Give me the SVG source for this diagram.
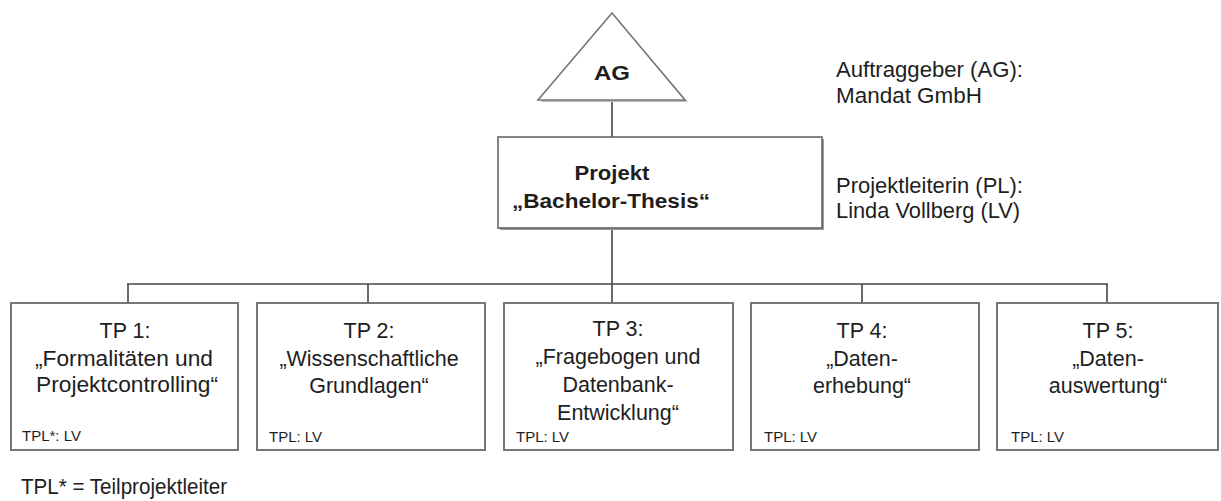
<svg xmlns="http://www.w3.org/2000/svg" width="1221" height="501" viewBox="0 0 1221 501">
<style>
.t{font-family:"Liberation Sans",Arial,sans-serif;fill:#1e1e1e}
.n{font-size:21.5px}
.c{text-anchor:middle}
.b{font-weight:bold;font-size:20px}
.s{font-size:15px}
.box{fill:#fff;stroke:#777;stroke-width:2}
.sh{fill:#9a9a9a;stroke:none}
.ln{stroke:#444;stroke-width:1.6;fill:none}
</style>
<rect width="1221" height="501" fill="#fff"/>
<g id="connectors">
<line class="ln" x1="612" y1="100" x2="612" y2="137"/>
<line class="ln" x1="612" y1="228" x2="612" y2="284"/>
<line class="ln" x1="127" y1="284" x2="1108" y2="284"/>
<line class="ln" x1="128" y1="284" x2="128" y2="303"/>
<line class="ln" x1="368" y1="284" x2="368" y2="303"/>
<line class="ln" x1="612" y1="284" x2="612" y2="303"/>
<line class="ln" x1="862" y1="284" x2="862" y2="303"/>
<line class="ln" x1="1107" y1="284" x2="1107" y2="303"/>
</g>
<g id="ag">
<polygon points="614,15 688,102 541,102" fill="#bbb"/>
<polygon points="612,13 685,100 538,100" fill="#fff" stroke="#777" stroke-width="1.6"/>
<text class="t b c" x="612" y="80" textLength="36" lengthAdjust="spacingAndGlyphs">AG</text>
</g>
<g id="ag-label">
<text class="t n" x="836" y="77" textLength="187" lengthAdjust="spacingAndGlyphs">Auftraggeber (AG):</text>
<text class="t n" x="836" y="103" textLength="146" lengthAdjust="spacingAndGlyphs">Mandat GmbH</text>
</g>
<g id="projekt">
<rect x="500" y="139" width="324" height="91" class="sh"/>
<rect x="498" y="137" width="324" height="91" fill="#fff" stroke="#666" stroke-width="1.6"/>
<text class="t b c" x="612" y="180" textLength="75" lengthAdjust="spacingAndGlyphs">Projekt</text>
<text class="t b c" x="611" y="208" textLength="198" lengthAdjust="spacingAndGlyphs">„Bachelor-Thesis“</text>
</g>
<g id="pl-label">
<text class="t n" x="836" y="193" textLength="187" lengthAdjust="spacingAndGlyphs">Projektleiterin (PL):</text>
<text class="t n" x="836" y="218" textLength="184" lengthAdjust="spacingAndGlyphs">Linda Vollberg (LV)</text>
</g>
<g id="tp1">
<rect class="box" x="11" y="303" width="227" height="147"/>
<text class="t n c" x="125" y="338">TP 1:</text>
<text class="t n c" x="124" y="366" textLength="178" lengthAdjust="spacingAndGlyphs">„Formalitäten und</text>
<text class="t n c" x="127" y="392" textLength="182" lengthAdjust="spacingAndGlyphs">Projektcontrolling“</text>
<text class="t s" x="22" y="441">TPL*: LV</text>
</g>
<g id="tp2">
<rect class="box" x="257" y="303" width="228" height="147"/>
<text class="t n c" x="369" y="338">TP 2:</text>
<text class="t n c" x="369" y="366">„Wissenschaftliche</text>
<text class="t n c" x="369" y="393">Grundlagen“</text>
<text class="t s" x="269" y="442">TPL: LV</text>
</g>
<g id="tp3">
<rect class="box" x="504" y="303" width="229" height="147"/>
<text class="t n c" x="618" y="336">TP 3:</text>
<text class="t n c" x="618" y="364">„Fragebogen und</text>
<text class="t n c" x="618" y="392">Datenbank-</text>
<text class="t n c" x="618" y="420">Entwicklung“</text>
<text class="t s" x="516" y="442">TPL: LV</text>
</g>
<g id="tp4">
<rect class="box" x="751" y="303" width="228" height="147"/>
<text class="t n c" x="862" y="338">TP 4:</text>
<text class="t n c" x="862" y="366">„Daten-</text>
<text class="t n c" x="862" y="393">erhebung“</text>
<text class="t s" x="764" y="442">TPL: LV</text>
</g>
<g id="tp5">
<rect class="box" x="997" y="303" width="221" height="147"/>
<text class="t n c" x="1108" y="338">TP 5:</text>
<text class="t n c" x="1108" y="366">„Daten-</text>
<text class="t n c" x="1108" y="393">auswertung“</text>
<text class="t s" x="1011" y="442">TPL: LV</text>
</g>
<g id="footnote">
<text class="t n" x="21" y="494" textLength="206" lengthAdjust="spacingAndGlyphs">TPL* = Teilprojektleiter</text>
</g>
</svg>
